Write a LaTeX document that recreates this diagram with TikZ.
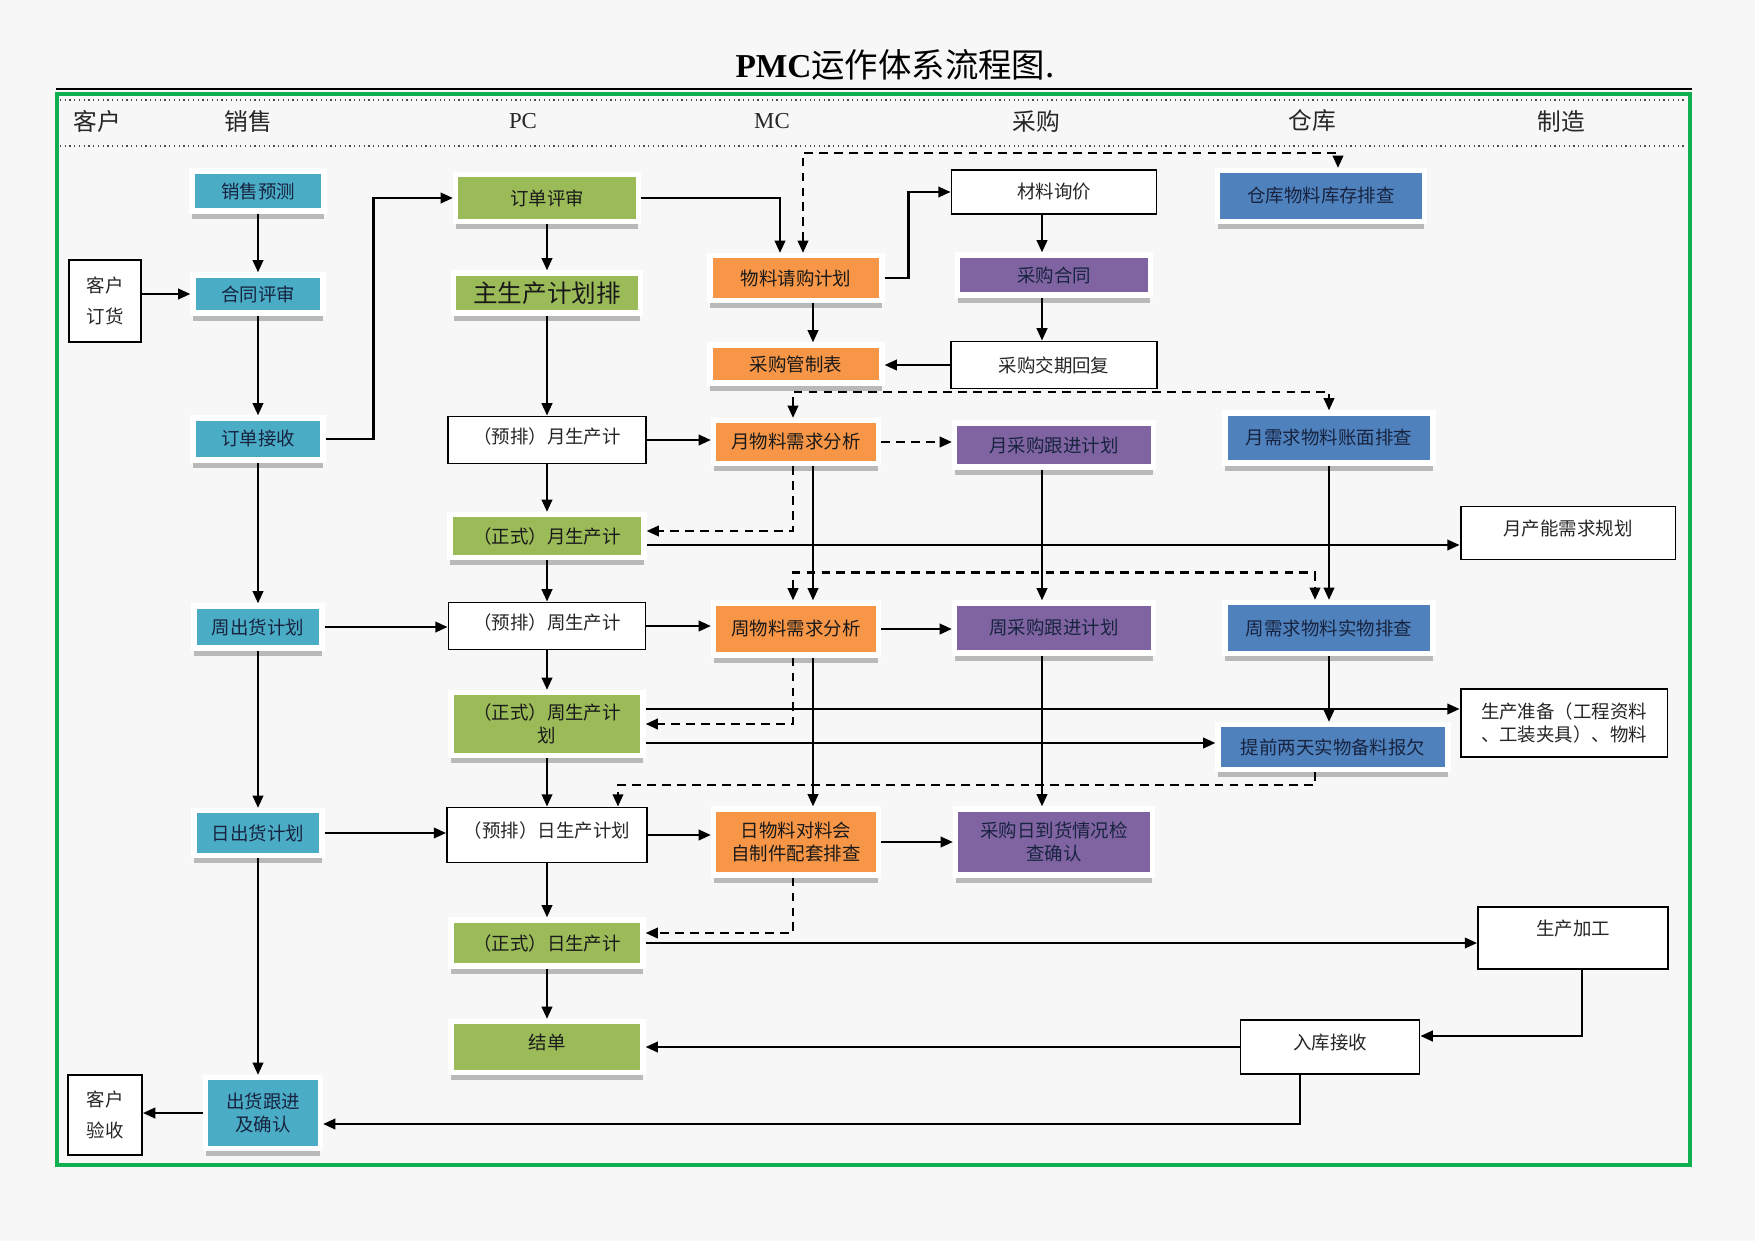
\documentclass[tikz,border=0pt]{standalone}
\usepackage{fontspec}
\setmainfont{Liberation Serif}
\newfontfamily\cjk{Noto Sans CJK SC}
\usetikzlibrary{arrows.meta,calc,shadows}
\definecolor{salesc}{HTML}{4BACC6}
\definecolor{pcc}{HTML}{9BBB59}
\definecolor{mcc}{HTML}{F79646}
\definecolor{buyc}{HTML}{8064A2}
\definecolor{whc}{HTML}{4F81BD}
\definecolor{framec}{HTML}{10B050}
\definecolor{navyt}{HTML}{17233F}
\begin{document}
\begin{tikzpicture}[x=0.02cm,y=-0.02cm,
    >={Triangle[length=7pt,width=6pt]},
    arr/.style={->,line width=1.3pt},
    dsh/.style={arr,dash pattern=on 5pt off 3.5pt},
    txt/.style={font=\cjk\fontsize{10.5}{13}\selectfont,align=center,inner sep=1pt},
    box/.style={txt,draw,line width=1.1pt,fill=white,text=black!85},
    cbox/.style={txt,draw=white,line width=3pt,
        drop shadow={shadow xshift=0pt,shadow yshift=-4.5pt,fill=gray!55,opacity=1}},
    sales/.style={cbox,fill=salesc,text=navyt},
    pc/.style={cbox,fill=pcc,text=black!90},
    mc/.style={cbox,fill=mcc,text=black!90},
    buy/.style={cbox,fill=buyc,text=navyt},
    wh/.style={cbox,fill=whc,text=navyt},
    lane/.style={font=\cjk\fontsize{13.5}{16}\selectfont,text=black!85},
    lanel/.style={font=\fontsize{13}{15}\selectfont,text=black!85},
    lift/.style={text depth=#1}]
    \def\xs{258}
    \def\xpc{547}
    \def\xmc{796}
    \def\xcg{1054}
    \useasboundingbox (0,0) rectangle (1755,1241);
    \fill[white!97!black] (0,0) rectangle (1755,1241);
    % frame and lanes
    \draw[line width=1.2pt] (56,89) -- (1692,89);
    \draw[framec,line width=2.8pt] (57,94) rectangle (1690,1165);
    \draw[dotted,line width=0.7pt,black!70] (60,100) -- (1687,100);
    \draw[dotted,line width=0.7pt,black!70] (60,146) -- (1687,146);
    \node (title) at (895,65) {{\fontsize{19}{22}\selectfont\bfseries PMC}{\cjk\fontsize{19}{22}\selectfont 运作体系流程图.}};
    \node[lane] (hkh) at (97,121) {客户};
    \node[lane] (hxs) at (248,121) {销售};
    \node[lanel] (hpc) at (523,121) {PC};
    \node[lanel] (hmc) at (772,121) {MC};
    \node[lane] (hcg) at (1036,121) {采购};
    \node[lane] (hck) at (1312,121) {仓库};
    \node[lane] (hzz) at (1561,121) {制造};
    % customer
    \node[box,minimum width=1.44cm,minimum height=1.64cm,font=\cjk\fontsize{10.5}{18}\selectfont] (khdh) at (105,301) {客户\\订货};
    \node[box,minimum width=1.48cm,minimum height=1.6cm,font=\cjk\fontsize{10.5}{18}\selectfont] (khys) at (105,1115) {客户\\验收};
    % sales
    \node[sales,minimum width=2.64cm,minimum height=0.8cm] (xsyc) at (\xs,191) {销售预测};
    \node[sales,minimum width=2.6cm,minimum height=0.76cm] (htps) at (\xs,294) {合同评审};
    \node[sales,minimum width=2.6cm,minimum height=0.84cm] (ddjs) at (\xs,439) {订单接收};
    \node[sales,minimum width=2.56cm,minimum height=0.84cm] (zchh) at (\xs,627) {周出货计划};
    \node[sales,minimum width=2.56cm,minimum height=0.9cm] (rchh) at (\xs,833) {日出货计划};
    \node[sales,minimum width=2.3cm,minimum height=1.42cm] (chgj) at (263,1113) {出货跟进\\及确认};
    % PC
    \node[pc,minimum width=3.66cm,minimum height=0.94cm] (ddps) at (\xpc,198) {订单评审};
    \node[pc,minimum width=3.74cm,minimum height=0.8cm,font=\cjk\fontsize{14}{16}\selectfont] (zjh) at (\xpc,293) {主生产计划排};
    \node[box,minimum width=3.96cm,minimum height=0.94cm,lift=0.18cm] (ypy) at (\xpc,440) {（预排）月生产计};
    \node[pc,minimum width=3.88cm,minimum height=0.86cm] (zsy) at (\xpc,536) {（正式）月生产计};
    \node[box,minimum width=3.94cm,minimum height=0.94cm,lift=0.18cm] (ypz) at (\xpc,626) {（预排）周生产计};
    \node[pc,minimum width=3.84cm,minimum height=1.26cm] (zsz) at (\xpc,724) {（正式）周生产计\\划};
    \node[box,minimum width=4cm,minimum height=1.1cm,lift=0.22cm] (ypr) at (\xpc,835) {（预排）日生产计划};
    \node[pc,minimum width=3.84cm,minimum height=0.92cm] (zsr) at (\xpc,943) {（正式）日生产计};
    \node[pc,minimum width=3.84cm,minimum height=1.02cm,lift=0.22cm] (jd) at (\xpc,1047) {结单};
    % MC
    \node[mc,minimum width=3.44cm,minimum height=0.9cm] (wlqg) at (\xmc,278) {物料请购计划};
    \node[mc,minimum width=3.44cm,minimum height=0.76cm] (cggz) at (\xmc,364) {采购管制表};
    \node[mc,minimum width=3.3cm,minimum height=0.86cm] (ywl) at (\xmc,442) {月物料需求分析};
    \node[mc,minimum width=3.3cm,minimum height=1.04cm] (zwl) at (\xmc,629) {周物料需求分析};
    \node[mc,minimum width=3.3cm,minimum height=1.32cm] (rwl) at (\xmc,842) {日物料对料会\\自制件配套排查};
    % purchasing
    \node[box,minimum width=4.1cm,minimum height=0.88cm] (clxj) at (\xcg,192) {材料询价};
    \node[buy,minimum width=3.86cm,minimum height=0.8cm] (cght) at (\xcg,275) {采购合同};
    \node[box,minimum width=4.12cm,minimum height=0.94cm] (cgjq) at (\xcg,365) {采购交期回复};
    \node[buy,minimum width=3.98cm,minimum height=0.88cm] (ycg) at (\xcg,445) {月采购跟进计划};
    \node[buy,minimum width=3.98cm,minimum height=1cm] (zcg) at (\xcg,628) {周采购跟进计划};
    \node[buy,minimum width=3.94cm,minimum height=1.32cm] (rdh) at (\xcg,842) {采购日到货情况检\\查确认};
    % warehouse
    \node[wh,minimum width=4.14cm,minimum height=1.02cm] (ckkc) at (1321,196) {仓库物料库存排查};
    \node[wh,minimum width=4.16cm,minimum height=1cm] (yxq) at (1329,438) {月需求物料账面排查};
    \node[wh,minimum width=4.16cm,minimum height=1.02cm] (zxq) at (1329,628) {周需求物料实物排查};
    \node[wh,minimum width=4.6cm,minimum height=0.9cm] (tqlt) at (1333,747) {提前两天实物备料报欠};
    \node[box,minimum width=3.58cm,minimum height=1.08cm,lift=0.22cm] (rkjs) at (1330,1047) {入库接收};
    % manufacturing
    \node[box,minimum width=4.3cm,minimum height=1.06cm,lift=0.2cm] (ycn) at (1568,533) {月产能需求规划};
    \node[box,minimum width=4.14cm,minimum height=1.36cm] (scz) at (1564,723) {生产准备（工程资料\\、工装夹具）、物料};
    \node[box,minimum width=3.8cm,minimum height=1.24cm,lift=0.42cm] (scjg) at (1573,938) {生产加工};
    % sales flow
    \draw[arr] (xsyc) -- (htps);
    \draw[arr] (htps) -- (ddjs);
    \draw[arr] (ddjs) -- (zchh);
    \draw[arr] (zchh) -- (rchh);
    \draw[arr] (rchh.south) -- (rchh.south |- chgj.north);
    \draw[arr] (khdh.east |- htps.west) -- (htps.west);
    \draw[arr] (ddjs.east) -- ++(48,0) |- (ddps.west);
    \draw[arr] (zchh.east) -- (zchh.east -| ypz.west);
    \draw[arr] (rchh.east) -- (rchh.east -| ypr.west);
    \draw[arr] (chgj.west) -- (chgj.west -| khys.east);
    % PC flow
    \draw[arr] (ddps) -- (zjh);
    \draw[arr] (zjh) -- (ypy);
    \draw[arr] (ypy) -- (zsy);
    \draw[arr] (zsy) -- (ypz);
    \draw[arr] (ypz) -- (zsz);
    \draw[arr] (zsz) -- (ypr);
    \draw[arr] (ypr) -- (zsr);
    \draw[arr] (zsr) -- (jd);
    \draw[arr] (ddps.east) -| ([xshift=-0.32cm]wlqg.north);
    \draw[dsh,<->] ([xshift=0.14cm]wlqg.north) -- ++(0,-100) -| ([xshift=0.34cm]ckkc.north);
    % MC and purchasing flow
    \draw[arr] (wlqg.east) -- ++(24,0) |- (clxj.west);
    \draw[arr] ([xshift=0.34cm]wlqg.south) -- ([xshift=0.34cm]cggz.north);
    \draw[arr] ([xshift=-0.24cm]clxj.south) -- ([xshift=-0.24cm]cght.north);
    \draw[arr] ([xshift=-0.24cm]cght.south) -- ([xshift=-0.24cm]cgjq.north);
    \draw[arr] (cgjq.west) -- (cgjq.west -| cggz.east);
    \draw[dsh,<->] ([xshift=-0.06cm]ywl.north) -- ++(0,-26) -| (yxq.north);
    \draw[arr] (ypy.east) -- (ypy.east -| ywl.west);
    \draw[dsh] (ywl.east) -- (ywl.east -| ycg.west);
    \draw[arr] ([xshift=0.34cm]ywl.south) -- ([xshift=0.34cm]zwl.north);
    \draw[dsh] ([xshift=-0.06cm]ywl.south) |- ([yshift=0.1cm]zsy.east);
    \draw[arr] ([yshift=-0.18cm]zsy.east) -- ([yshift=-0.18cm]zsy.east -| ycn.west);
    \draw[arr] ([xshift=-0.24cm]ycg.south) -- ([xshift=-0.24cm]zcg.north);
    \draw[arr] (yxq) -- (zxq);
    \draw[dsh,<->] ([xshift=-0.06cm]zwl.north) -- ++(0,-28) -| ([xshift=-0.28cm]zxq.north);
    \draw[arr] (ypz.east) -- (ypz.east -| zwl.west);
    \draw[arr] (zwl.east) -- (zwl.east -| zcg.west);
    \draw[arr] ([xshift=0.34cm]zwl.south) -- ([xshift=0.34cm]rwl.north);
    \draw[dsh] ([xshift=-0.06cm]zwl.south) |- (zsz.east);
    \draw[arr] ([yshift=0.3cm]zsz.east) -- ([yshift=0.3cm]zsz.east -| scz.west);
    \draw[arr] ([yshift=-0.38cm]zsz.east) -- ([yshift=-0.38cm]zsz.east -| tqlt.west);
    \draw[arr] (zxq.south) -- (zxq.south |- tqlt.north);
    \draw[dsh] ([xshift=-0.36cm]tqlt.south) -- ++(0,13) -| ([xshift=1.42cm]ypr.north);
    \draw[arr] ([xshift=-0.24cm]zcg.south) -- ([xshift=-0.24cm]rdh.north);
    \draw[arr] (ypr.east) -- (ypr.east -| rwl.west);
    \draw[arr] (rwl.east) -- (rwl.east -| rdh.west);
    \draw[dsh] ([xshift=-0.06cm]rwl.south) |- ([yshift=0.2cm]zsr.east);
    \draw[arr] (zsr.east) -- (zsr.east -| scjg.west);
    % manufacturing and return
    \draw[arr] ([xshift=0.18cm]scjg.south) |- ([yshift=0.22cm]rkjs.east);
    \draw[arr] (rkjs.west) -- (rkjs.west -| jd.east);
    \draw[arr] ([xshift=-0.6cm]rkjs.south) |- ([yshift=-0.22cm]chgj.east);
\end{tikzpicture}
\end{document}
